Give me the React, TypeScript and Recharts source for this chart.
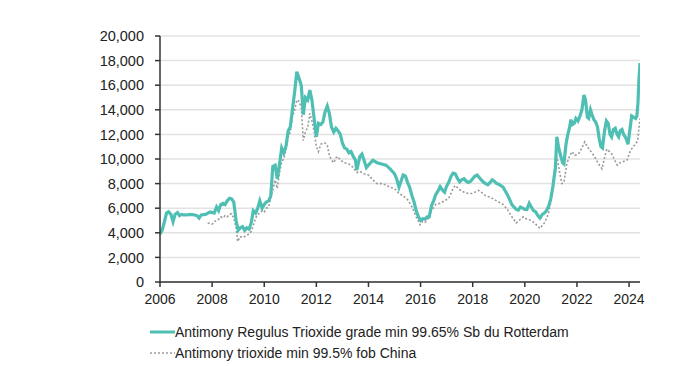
import { CartesianGrid, Line, LineChart, XAxis, YAxis } from "recharts";

// Antimony prices, USD/t. Dates as decimal years.
const rotterdamDates = [
  2006.0, 2006.08, 2006.17, 2006.25, 2006.33, 2006.42, 2006.5, 2006.58, 2006.67, 2006.75, 2006.83, 2006.92,
  2007.0, 2007.17, 2007.33, 2007.42, 2007.5, 2007.58, 2007.75, 2007.92,
  2008.0, 2008.08, 2008.17, 2008.25, 2008.33, 2008.42, 2008.5, 2008.58, 2008.67, 2008.75, 2008.83, 2008.92,
  2009.0, 2009.08, 2009.17, 2009.25, 2009.33, 2009.42, 2009.5, 2009.58, 2009.67, 2009.75, 2009.83, 2009.92,
  2010.0, 2010.08, 2010.17, 2010.25, 2010.33, 2010.42, 2010.5, 2010.58, 2010.67, 2010.75, 2010.83, 2010.92,
  2011.0, 2011.08, 2011.17, 2011.25, 2011.33, 2011.42, 2011.5, 2011.58, 2011.67, 2011.75, 2011.83, 2011.92,
  2012.0, 2012.08, 2012.17, 2012.25, 2012.33, 2012.42, 2012.5, 2012.58, 2012.67, 2012.75, 2012.83, 2012.92,
  2013.0, 2013.08, 2013.17, 2013.25, 2013.33, 2013.42, 2013.5, 2013.55, 2013.67, 2013.75, 2013.83, 2013.92,
  2014.0, 2014.17, 2014.33, 2014.5, 2014.67, 2014.83,
  2015.0, 2015.08, 2015.17, 2015.25, 2015.33, 2015.42, 2015.5, 2015.58, 2015.67, 2015.75, 2015.83, 2015.92,
  2016.0, 2016.08, 2016.17, 2016.25, 2016.33, 2016.42, 2016.5, 2016.58, 2016.67, 2016.75, 2016.83, 2016.92,
  2017.0, 2017.08, 2017.17, 2017.25, 2017.33, 2017.42, 2017.5, 2017.58, 2017.67, 2017.75, 2017.83, 2017.92,
  2018.0, 2018.08, 2018.17, 2018.25, 2018.33, 2018.42, 2018.5, 2018.58, 2018.67, 2018.75, 2018.83, 2018.92,
  2019.0, 2019.17, 2019.25, 2019.33, 2019.42, 2019.5, 2019.58, 2019.67, 2019.75, 2019.83, 2019.92,
  2020.0, 2020.08, 2020.17, 2020.25, 2020.33, 2020.42, 2020.5, 2020.58, 2020.67, 2020.75, 2020.83, 2020.92,
  2021.0, 2021.08, 2021.17, 2021.23, 2021.3, 2021.37, 2021.45, 2021.5, 2021.58, 2021.64, 2021.71, 2021.77, 2021.83, 2021.9, 2021.96,
  2022.04, 2022.12, 2022.19, 2022.27, 2022.33, 2022.4, 2022.45, 2022.52, 2022.58, 2022.65, 2022.72, 2022.79, 2022.85, 2022.92, 2022.98,
  2023.06, 2023.13, 2023.2, 2023.27, 2023.33, 2023.4, 2023.47, 2023.54, 2023.6, 2023.66, 2023.73, 2023.79, 2023.88, 2023.96,
  2024.04, 2024.1, 2024.17, 2024.25, 2024.3, 2024.34, 2024.38, 2024.42,
];
const rotterdamPrices = [
  3900, 4200, 4900, 5600, 5700, 5500, 4900, 5500, 5650, 5400, 5500, 5450,
  5450, 5500, 5450, 5400, 5200, 5450, 5500, 5700,
  5650, 5600, 6100, 5800, 6300, 6400, 6300, 6600, 6800, 6750, 6500, 5000,
  4200, 4400, 4500, 4200, 4400, 4300, 4800, 5800, 5600, 6000, 6600, 6000,
  6300, 6500, 6600, 7000, 9400, 9500, 8400, 9500, 10900, 10500, 11000, 12300,
  12600, 14000, 15500, 17100, 16600, 16000, 13600, 15000, 14800, 15600, 14800, 13200,
  11800, 12900, 12800, 13000, 13800, 14300, 13700, 12600, 12200, 12500, 12300, 12000,
  11300, 10900, 10800, 10500, 10600, 10200, 9900, 9100, 10200, 10400, 9900, 9300,
  9500, 9900, 9700, 9600, 9500, 9200,
  8800, 8400, 7700, 8200, 8700, 8600, 8100, 7700, 7000, 6500, 5800, 5300,
  5000, 5150, 5100, 5300, 5300, 6200, 6600, 7100, 7400, 7750, 7500, 7300,
  7800, 8100, 8600, 8850, 8800, 8400, 8150, 8300, 8400, 8200, 8100, 8200,
  8400, 8600, 8700, 8500, 8300, 8100, 8000, 7900, 8100, 8300, 8200, 8000,
  7950, 7700, 7400, 7100, 6700, 6300, 6100, 5900, 5850, 6100, 6000,
  5900, 5900, 6400, 6100, 5800, 5700, 5400, 5200, 5500, 5600, 5800, 6200,
  6800, 7800, 9200, 11800, 10900, 10300, 9700, 9600, 11200, 11900, 12500, 13200, 12800, 12900, 13300,
  13100, 13500, 14000, 15200, 14800, 13400, 13300, 14000, 13600, 13200, 13000, 12600, 11700, 11000, 10900,
  12300, 13100, 12900, 12000, 11800, 12400, 12500, 12000, 11800, 12300, 12400, 12000, 11700, 11200,
  12500, 13500, 13400, 13300, 13500, 14500, 16500, 17800,
];

const chinaDates = [
  2007.83, 2007.92,
  2008.0, 2008.08, 2008.17, 2008.25, 2008.33, 2008.42, 2008.5, 2008.58, 2008.67, 2008.75, 2008.83, 2008.92, 2008.98,
  2009.08, 2009.17, 2009.25, 2009.33, 2009.42, 2009.5, 2009.58, 2009.67, 2009.75, 2009.83, 2009.92,
  2010.0, 2010.08, 2010.17, 2010.25, 2010.33, 2010.42, 2010.5, 2010.58, 2010.67, 2010.75, 2010.83, 2010.92,
  2011.0, 2011.08, 2011.17, 2011.25, 2011.33, 2011.42, 2011.5, 2011.58, 2011.67, 2011.75, 2011.83, 2011.92,
  2012.0, 2012.08, 2012.17, 2012.25, 2012.33, 2012.42, 2012.5, 2012.58, 2012.67, 2012.75, 2012.83, 2012.92,
  2013.08, 2013.25, 2013.42, 2013.55, 2013.67, 2013.83,
  2014.0, 2014.17, 2014.33, 2014.5, 2014.67, 2014.83,
  2015.0, 2015.17, 2015.33, 2015.5, 2015.67, 2015.83, 2015.98,
  2016.08, 2016.17, 2016.25, 2016.42, 2016.58, 2016.75, 2016.92,
  2017.08, 2017.25, 2017.33, 2017.5, 2017.67, 2017.83, 2017.96,
  2018.08, 2018.22, 2018.33, 2018.5, 2018.67, 2018.83,
  2019.0, 2019.17, 2019.33, 2019.5, 2019.67, 2019.83, 2019.94,
  2020.08, 2020.26, 2020.42, 2020.58, 2020.75, 2020.9,
  2021.0, 2021.1, 2021.23, 2021.33, 2021.42, 2021.5, 2021.61, 2021.71, 2021.81, 2021.92,
  2022.06, 2022.19, 2022.3, 2022.4, 2022.5, 2022.58, 2022.7, 2022.83, 2022.96,
  2023.08, 2023.15, 2023.25, 2023.34, 2023.45, 2023.55, 2023.66, 2023.79, 2023.92,
  2024.04, 2024.15, 2024.25, 2024.33, 2024.38, 2024.42,
];
const chinaPrices = [
  4800, 4750,
  4700, 4900, 5000, 5100, 5300, 5200, 5400, 5300, 5500, 5550, 5200, 4400, 3300,
  3700, 3600, 3700, 3800, 3900, 4100, 4600, 5200, 5500, 5600, 5800,
  5700, 6000, 6100, 6800, 7500, 8300, 7600, 8800, 9800, 10000, 10700, 11800,
  12200, 13400, 14000, 14800, 14700, 14200, 11500, 12200, 12600, 13700, 13100, 12200,
  11000, 10600, 11200, 11300, 11300, 11100, 10300, 9900, 9700, 10100, 10200, 9900,
  9700, 9600, 9300, 8900, 9000, 8800,
  8700, 8300, 8000, 8000, 7900, 7700,
  7600, 7200, 7000, 6700, 6100, 5300, 4650,
  4950, 4850, 5000, 5800, 6300, 6400, 6600,
  6800, 7600, 7850, 7500, 7300, 7200, 7200,
  7300, 7450, 7300, 7000, 6900, 6700,
  6500, 6300, 5900, 5300, 4800, 5100, 5300,
  5100, 5000, 4700, 4350, 4800, 5500,
  6500, 8500, 10200, 9000, 8000, 8100, 9600, 10200, 10600, 10300,
  10400, 10900, 11400, 11000, 10700, 10500, 10100, 9600, 9200,
  10300, 10800, 10600, 10400, 9900, 9500, 9700, 9800, 9900,
  10600, 11000, 11200, 11500, 12500, 13300,
];

const yearTicks = [2006, 2008, 2010, 2012, 2014, 2016, 2018, 2020, 2022, 2024];
const priceTicks = [0, 2000, 4000, 6000, 8000, 10000, 12000, 14000, 16000, 18000, 20000];

const rotterdamLabel = "Antimony Regulus Trioxide grade min 99.65% Sb du Rotterdam";
const chinaLabel = "Antimony trioxide min 99.5% fob China";

const TEAL = "#4fbfb3";
const GREY = "#9a9a9a";
const FONT = "'Liberation Sans', Arial, sans-serif";

const rotterdam = rotterdamDates.map((year, i) => ({ year, price: rotterdamPrices[i] }));
const china = chinaDates.map((year, i) => ({ year, price: chinaPrices[i] }));

const xTick = { fontSize: 14, fill: "#222", fontFamily: FONT };
const yTick = { fontSize: 14.5, fill: "#222", fontFamily: FONT };

export default function App() {
  return (
    <div style={{ position: "absolute", left: 0, top: 0, width: 690, height: 366, background: "#fff" }}>
      <LineChart width={690} height={310} margin={{ top: 36, right: 50, bottom: 0, left: 0 }}>
        <CartesianGrid horizontal vertical={false} stroke="#e2e2e2" strokeWidth={1.5} />
        <XAxis
          dataKey="year"
          type="number"
          domain={[2006, 2024.42]}
          ticks={yearTicks}
          allowDataOverflow
          tick={xTick}
          tickSize={5}
          tickMargin={7}
          height={28}
          stroke="#333"
          strokeWidth={1.5}
        />
        <YAxis
          type="number"
          domain={[0, 20000]}
          ticks={priceTicks}
          tickFormatter={(v: number) => v.toLocaleString("en-US")}
          tick={yTick}
          tickSize={5}
          tickMargin={11}
          width={160}
          stroke="#333"
          strokeWidth={1.5}
        />
        <Line
          data={china}
          dataKey="price"
          name={chinaLabel}
          stroke={GREY}
          strokeWidth={1.6}
          strokeDasharray="2 2"
          dot={false}
          isAnimationActive={false}
        />
        <Line
          data={rotterdam}
          dataKey="price"
          name={rotterdamLabel}
          stroke={TEAL}
          strokeWidth={3.2}
          dot={false}
          isAnimationActive={false}
        />
      </LineChart>
      <div style={{ position: "absolute", left: 150, top: 321, fontFamily: FONT, fontSize: 14, color: "#222" }}>
        <div style={{ display: "flex", alignItems: "center", height: 21 }}>
          <svg width={25} height={6}>
            <line x1={0} y1={3} x2={25} y2={3} stroke={TEAL} strokeWidth={3} />
          </svg>
          <span>{rotterdamLabel}</span>
        </div>
        <div style={{ display: "flex", alignItems: "center", height: 21 }}>
          <svg width={25} height={6}>
            <line x1={0} y1={3} x2={25} y2={3} stroke={GREY} strokeWidth={1.6} strokeDasharray="2 2" />
          </svg>
          <span>{chinaLabel}</span>
        </div>
      </div>
    </div>
  );
}
